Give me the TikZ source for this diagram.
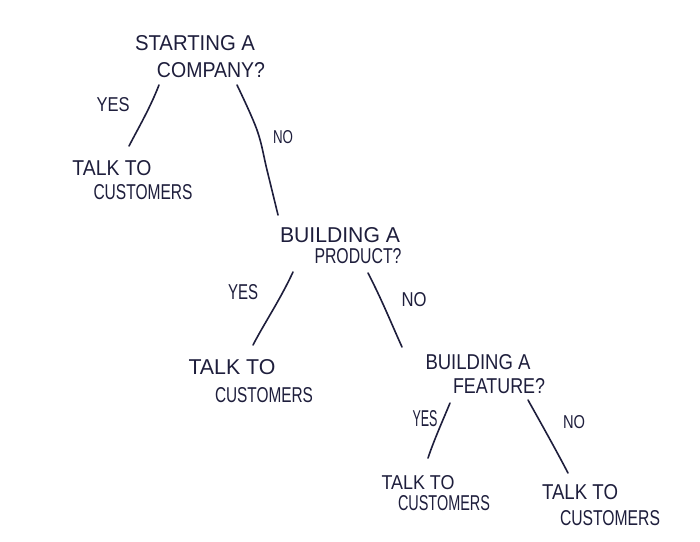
\documentclass[tikz,border=0pt]{standalone}
\usepackage{fontspec}
\setmainfont{Liberation Sans}
\definecolor{ink}{HTML}{1E1E3C}
\newcommand{\handtxt}[3]{\resizebox{#1pt}{#2pt}{#3}}
\begin{document}
\begin{tikzpicture}[x=1pt,y=-1pt,
  hand/.style={inner sep=0pt,text=ink,font=\fontsize{17}{20}\selectfont},
  branch/.style={draw=ink,line width=1.6pt,line cap=round,line join=round},
  lbl/.style={hand}]
\useasboundingbox[fill=white] (0,0) rectangle (700,541);

% question 1
\node[hand] (q1a) at (195,43) {\handtxt{120}{15}{STARTING A}};
\node[hand] (q1b) at (211,70) {\handtxt{108}{15}{COMPANY?}};
% answer 1
\node[hand] (t1a) at (112,168) {\handtxt{79}{15}{TALK TO}};
\node[hand] (t1b) at (143,192) {\handtxt{99}{15}{CUSTOMERS}};
% question 2
\node[hand] (q2a) at (340,235) {\handtxt{120}{15}{BUILDING A}};
\node[hand] (q2b) at (358,256) {\handtxt{87}{15}{PRODUCT?}};
% answer 2
\node[hand] (t2a) at (232,367) {\handtxt{87}{15}{TALK TO}};
\node[hand] (t2b) at (264,395) {\handtxt{98}{15}{CUSTOMERS}};
% question 3
\node[hand] (q3a) at (478,362) {\handtxt{105}{15}{BUILDING A}};
\node[hand] (q3b) at (499,386) {\handtxt{92}{15}{FEATURE?}};
% answers 3
\node[hand] (t3a) at (418,483) {\handtxt{73}{14}{TALK TO}};
\node[hand] (t3b) at (444,503) {\handtxt{92}{15}{CUSTOMERS}};
\node[hand] (t4a) at (580,492) {\handtxt{76}{15}{TALK TO}};
\node[hand] (t4b) at (610,518) {\handtxt{100}{15}{CUSTOMERS}};

% labels
\node[lbl] (y1) at (113,105) {\handtxt{33}{14}{YES}};
\node[lbl] (n1) at (283,137) {\handtxt{20}{13}{NO}};
\node[lbl] (y2) at (243,292) {\handtxt{30}{15}{YES}};
\node[lbl] (n2) at (414,300) {\handtxt{25}{14}{NO}};
\node[lbl] (y3) at (425,419) {\handtxt{25}{16}{YES}};
\node[lbl] (n3) at (574,422) {\handtxt{22}{13}{NO}};

% connector end points
\coordinate (a1) at (159,85);  \coordinate (b1) at (129,146);
\coordinate (a2) at (237,85);  \coordinate (m2) at (257,130);
\coordinate (m2b) at (267,170); \coordinate (b2) at (278,215);
\coordinate (a3) at (293,272); \coordinate (b3) at (253,345);
\coordinate (a4) at (368,273); \coordinate (b4) at (402,347);
\coordinate (a5) at (450,403); \coordinate (b5) at (428,458);
\coordinate (a6) at (528,400); \coordinate (b6) at (568,473);

\draw[branch] (a1) .. controls (150,108) and (140,125) .. (b1);
\draw[branch] plot[smooth,tension=0.6] coordinates {(a2) (m2) (m2b) (b2)};
\draw[branch] (a3) .. controls (280,300) and (265,322) .. (b3);
\draw[branch] (a4) .. controls (382,300) and (392,325) .. (b4);
\draw[branch] (a5) .. controls (443,420) and (434,440) .. (b5);
\draw[branch] (a6) .. controls (542,425) and (556,450) .. (b6);
\end{tikzpicture}
\end{document}
